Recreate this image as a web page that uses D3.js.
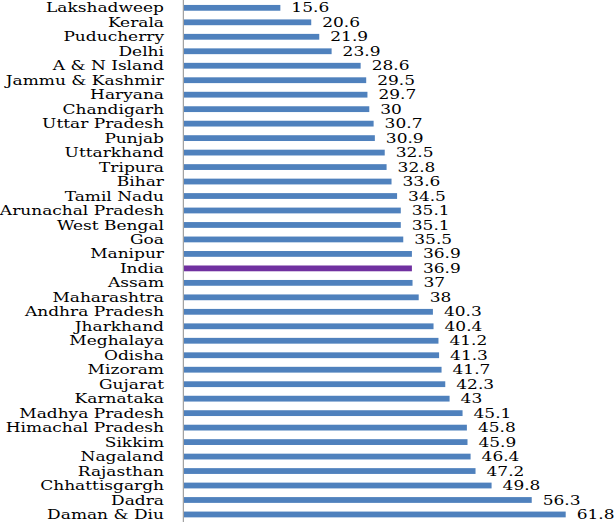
<!DOCTYPE html>
<html><head><meta charset="utf-8">
<script src="https://cdn.jsdelivr.net/npm/d3@7"></script>
<style>body{margin:0;background:#fff}svg{display:block}
svg text{font-family:"DejaVu Serif",serif;}</style>
</head><body>
<script>
const categories = ["Lakshadweep","Kerala","Puducherry","Delhi","A & N Island","Jammu & Kashmir","Haryana","Chandigarh","Uttar Pradesh","Punjab","Uttarkhand","Tripura","Bihar","Tamil Nadu","Arunachal Pradesh","West Bengal","Goa","Manipur","India","Assam","Maharashtra","Andhra Pradesh","Jharkhand","Meghalaya","Odisha","Mizoram","Gujarat","Karnataka","Madhya Pradesh","Himachal Pradesh","Sikkim","Nagaland","Rajasthan","Chhattisgargh","Dadra","Daman & Diu"];
const values = [15.6,20.6,21.9,23.9,28.6,29.5,29.7,30,30.7,30.9,32.5,32.8,33.6,34.5,35.1,35.1,35.5,36.9,36.9,37,38,40.3,40.4,41.2,41.3,41.7,42.3,43,45.1,45.8,45.9,46.4,47.2,49.8,56.3,61.8];
const valueLabels = ["15.6","20.6","21.9","23.9","28.6","29.5","29.7","30","30.7","30.9","32.5","32.8","33.6","34.5","35.1","35.1","35.5","36.9","36.9","37","38","40.3","40.4","41.2","41.3","41.7","42.3","43","45.1","45.8","45.9","46.4","47.2","49.8","56.3","61.8"];
const highlight = "India";

const W = 614, H = 523;
const x0 = 184;
const svg = d3.select("body").append("svg").attr("width", W).attr("height", H);
const x = d3.scaleLinear().domain([0, 61.8]).range([x0, 565.7]);
const y = d3.scaleBand().domain(categories).range([0.6, 521.7]).paddingInner(0.6).paddingOuter(0.3);
const data = categories.map((c, i) => ({c, v: values[i], l: valueLabels[i]}));
const bh = y.bandwidth();

svg.selectAll("rect.bar").data(data).enter().append("rect")
  .attr("x", x0).attr("y", d => y(d.c))
  .attr("width", d => x(d.v) - x0).attr("height", bh)
  .attr("fill", d => d.c === highlight ? "#7030A0" : "#4F81BD");

svg.append("line").attr("x1", 183.3).attr("x2", 183.3).attr("y1", 0).attr("y2", 522)
  .attr("stroke", "#8c8c8c").attr("stroke-width", 1);

// calibrate horizontal stretch so "Lakshadweep" spans ~118px
const probe = svg.append("text").attr("font-size", 13).text("Lakshadweep");
const sx = 118 / probe.node().getComputedTextLength();
probe.remove();

svg.selectAll("g.cat").data(data).enter().append("g")
  .attr("transform", d => `translate(164,${y(d.c) + bh / 2}) scale(${sx},1)`)
  .append("text").attr("text-anchor", "end").attr("dy", "0.35em")
  .attr("font-size", 13).attr("fill", "#000")
  .text(d => d.c);

svg.selectAll("g.val").data(data).enter().append("g")
  .attr("transform", d => `translate(${x(d.v) + 11},${y(d.c) + bh / 2}) scale(${sx},1)`)
  .append("text").attr("text-anchor", "start").attr("dy", "0.35em")
  .attr("font-size", 13).attr("fill", "#000")
  .text(d => d.l);
</script>
</body></html>
